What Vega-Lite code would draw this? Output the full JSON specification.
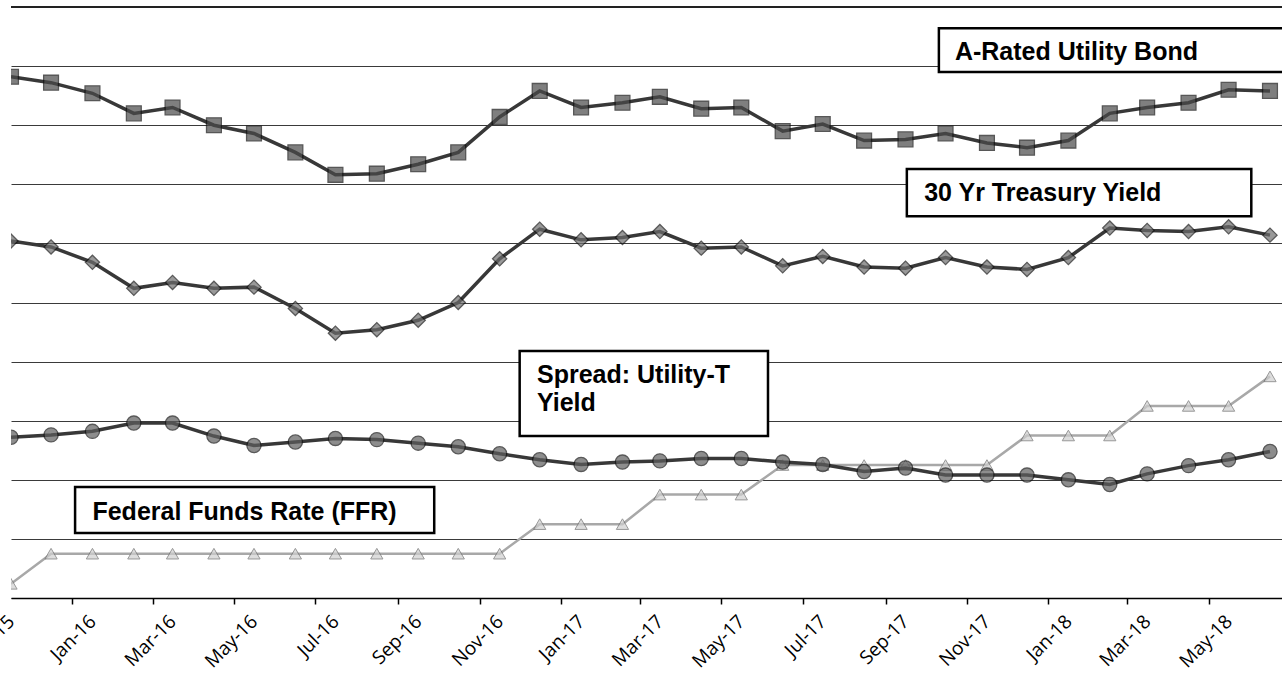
{
  "$schema": "https://vega.github.io/schema/vega-lite/v6.json",
  "width": 1271,
  "height": 591,
  "autosize": {"type": "none"},
  "padding": {"left": 11, "top": 7, "right": 0, "bottom": 79},
  "background": "white",
  "config": {
    "view": {"stroke": null},
    "axisX": {
      "format": "%b-%y",
      "labelAngle": -45,
      "labelAlign": "right",
      "labelBaseline": "middle",
      "labelFont": "Open Sans",
      "labelFontSize": 19,
      "labelColor": "black",
      "ticks": true,
      "tickSize": 6,
      "tickColor": "black",
      "tickWidth": 1.5,
      "tickOffset": -20,
      "labelOffset": 20,
      "labelPadding": 14,
      "domainColor": "black",
      "domainWidth": 1.5,
      "grid": false,
      "labelOverlap": false,
      "labelBound": false,
      "labelFlush": false
    },
    "axisY": {
      "labels": false,
      "ticks": false,
      "domain": false,
      "grid": true,
      "gridColor": "#3a3a3a",
      "gridWidth": 1
    }
  },
  "datasets": {
    "series": [
      {"d": "2015-11-01T00:00", "s": "FFR", "v": 0.12},
      {"d": "2015-12-01T00:00", "s": "FFR", "v": 0.375},
      {"d": "2016-01-01T00:00", "s": "FFR", "v": 0.375},
      {"d": "2016-02-01T00:00", "s": "FFR", "v": 0.375},
      {"d": "2016-03-01T00:00", "s": "FFR", "v": 0.375},
      {"d": "2016-04-01T00:00", "s": "FFR", "v": 0.375},
      {"d": "2016-05-01T00:00", "s": "FFR", "v": 0.375},
      {"d": "2016-06-01T00:00", "s": "FFR", "v": 0.375},
      {"d": "2016-07-01T00:00", "s": "FFR", "v": 0.375},
      {"d": "2016-08-01T00:00", "s": "FFR", "v": 0.375},
      {"d": "2016-09-01T00:00", "s": "FFR", "v": 0.375},
      {"d": "2016-10-01T00:00", "s": "FFR", "v": 0.375},
      {"d": "2016-11-01T00:00", "s": "FFR", "v": 0.375},
      {"d": "2016-12-01T00:00", "s": "FFR", "v": 0.625},
      {"d": "2017-01-01T00:00", "s": "FFR", "v": 0.625},
      {"d": "2017-02-01T00:00", "s": "FFR", "v": 0.625},
      {"d": "2017-03-01T00:00", "s": "FFR", "v": 0.875},
      {"d": "2017-04-01T00:00", "s": "FFR", "v": 0.875},
      {"d": "2017-05-01T00:00", "s": "FFR", "v": 0.875},
      {"d": "2017-06-01T00:00", "s": "FFR", "v": 1.125},
      {"d": "2017-07-01T00:00", "s": "FFR", "v": 1.125},
      {"d": "2017-08-01T00:00", "s": "FFR", "v": 1.125},
      {"d": "2017-09-01T00:00", "s": "FFR", "v": 1.125},
      {"d": "2017-10-01T00:00", "s": "FFR", "v": 1.125},
      {"d": "2017-11-01T00:00", "s": "FFR", "v": 1.125},
      {"d": "2017-12-01T00:00", "s": "FFR", "v": 1.375},
      {"d": "2018-01-01T00:00", "s": "FFR", "v": 1.375},
      {"d": "2018-02-01T00:00", "s": "FFR", "v": 1.375},
      {"d": "2018-03-01T00:00", "s": "FFR", "v": 1.625},
      {"d": "2018-04-01T00:00", "s": "FFR", "v": 1.625},
      {"d": "2018-05-01T00:00", "s": "FFR", "v": 1.625},
      {"d": "2018-06-01T00:00", "s": "FFR", "v": 1.875},

      {"d": "2015-11-01T00:00", "s": "Spread", "v": 1.36},
      {"d": "2015-12-01T00:00", "s": "Spread", "v": 1.38},
      {"d": "2016-01-01T00:00", "s": "Spread", "v": 1.41},
      {"d": "2016-02-01T00:00", "s": "Spread", "v": 1.48},
      {"d": "2016-03-01T00:00", "s": "Spread", "v": 1.48},
      {"d": "2016-04-01T00:00", "s": "Spread", "v": 1.37},
      {"d": "2016-05-01T00:00", "s": "Spread", "v": 1.29},
      {"d": "2016-06-01T00:00", "s": "Spread", "v": 1.32},
      {"d": "2016-07-01T00:00", "s": "Spread", "v": 1.35},
      {"d": "2016-08-01T00:00", "s": "Spread", "v": 1.34},
      {"d": "2016-09-01T00:00", "s": "Spread", "v": 1.31},
      {"d": "2016-10-01T00:00", "s": "Spread", "v": 1.28},
      {"d": "2016-11-01T00:00", "s": "Spread", "v": 1.22},
      {"d": "2016-12-01T00:00", "s": "Spread", "v": 1.17},
      {"d": "2017-01-01T00:00", "s": "Spread", "v": 1.13},
      {"d": "2017-02-01T00:00", "s": "Spread", "v": 1.15},
      {"d": "2017-03-01T00:00", "s": "Spread", "v": 1.16},
      {"d": "2017-04-01T00:00", "s": "Spread", "v": 1.18},
      {"d": "2017-05-01T00:00", "s": "Spread", "v": 1.18},
      {"d": "2017-06-01T00:00", "s": "Spread", "v": 1.15},
      {"d": "2017-07-01T00:00", "s": "Spread", "v": 1.13},
      {"d": "2017-08-01T00:00", "s": "Spread", "v": 1.07},
      {"d": "2017-09-01T00:00", "s": "Spread", "v": 1.10},
      {"d": "2017-10-01T00:00", "s": "Spread", "v": 1.04},
      {"d": "2017-11-01T00:00", "s": "Spread", "v": 1.04},
      {"d": "2017-12-01T00:00", "s": "Spread", "v": 1.04},
      {"d": "2018-01-01T00:00", "s": "Spread", "v": 1.00},
      {"d": "2018-02-01T00:00", "s": "Spread", "v": 0.96},
      {"d": "2018-03-01T00:00", "s": "Spread", "v": 1.05},
      {"d": "2018-04-01T00:00", "s": "Spread", "v": 1.12},
      {"d": "2018-05-01T00:00", "s": "Spread", "v": 1.17},
      {"d": "2018-06-01T00:00", "s": "Spread", "v": 1.24},

      {"d": "2015-11-01T00:00", "s": "Treasury", "v": 3.02},
      {"d": "2015-12-01T00:00", "s": "Treasury", "v": 2.97},
      {"d": "2016-01-01T00:00", "s": "Treasury", "v": 2.84},
      {"d": "2016-02-01T00:00", "s": "Treasury", "v": 2.62},
      {"d": "2016-03-01T00:00", "s": "Treasury", "v": 2.67},
      {"d": "2016-04-01T00:00", "s": "Treasury", "v": 2.62},
      {"d": "2016-05-01T00:00", "s": "Treasury", "v": 2.63},
      {"d": "2016-06-01T00:00", "s": "Treasury", "v": 2.45},
      {"d": "2016-07-01T00:00", "s": "Treasury", "v": 2.24},
      {"d": "2016-08-01T00:00", "s": "Treasury", "v": 2.27},
      {"d": "2016-09-01T00:00", "s": "Treasury", "v": 2.35},
      {"d": "2016-10-01T00:00", "s": "Treasury", "v": 2.50},
      {"d": "2016-11-01T00:00", "s": "Treasury", "v": 2.87},
      {"d": "2016-12-01T00:00", "s": "Treasury", "v": 3.12},
      {"d": "2017-01-01T00:00", "s": "Treasury", "v": 3.03},
      {"d": "2017-02-01T00:00", "s": "Treasury", "v": 3.05},
      {"d": "2017-03-01T00:00", "s": "Treasury", "v": 3.10},
      {"d": "2017-04-01T00:00", "s": "Treasury", "v": 2.96},
      {"d": "2017-05-01T00:00", "s": "Treasury", "v": 2.97},
      {"d": "2017-06-01T00:00", "s": "Treasury", "v": 2.81},
      {"d": "2017-07-01T00:00", "s": "Treasury", "v": 2.89},
      {"d": "2017-08-01T00:00", "s": "Treasury", "v": 2.80},
      {"d": "2017-09-01T00:00", "s": "Treasury", "v": 2.79},
      {"d": "2017-10-01T00:00", "s": "Treasury", "v": 2.88},
      {"d": "2017-11-01T00:00", "s": "Treasury", "v": 2.80},
      {"d": "2017-12-01T00:00", "s": "Treasury", "v": 2.78},
      {"d": "2018-01-01T00:00", "s": "Treasury", "v": 2.88},
      {"d": "2018-02-01T00:00", "s": "Treasury", "v": 3.13},
      {"d": "2018-03-01T00:00", "s": "Treasury", "v": 3.11},
      {"d": "2018-04-01T00:00", "s": "Treasury", "v": 3.10},
      {"d": "2018-05-01T00:00", "s": "Treasury", "v": 3.14},
      {"d": "2018-06-01T00:00", "s": "Treasury", "v": 3.07},

      {"d": "2015-11-01T00:00", "s": "Utility", "v": 4.41},
      {"d": "2015-12-01T00:00", "s": "Utility", "v": 4.36},
      {"d": "2016-01-01T00:00", "s": "Utility", "v": 4.27},
      {"d": "2016-02-01T00:00", "s": "Utility", "v": 4.10},
      {"d": "2016-03-01T00:00", "s": "Utility", "v": 4.15},
      {"d": "2016-04-01T00:00", "s": "Utility", "v": 4.00},
      {"d": "2016-05-01T00:00", "s": "Utility", "v": 3.93},
      {"d": "2016-06-01T00:00", "s": "Utility", "v": 3.77},
      {"d": "2016-07-01T00:00", "s": "Utility", "v": 3.58},
      {"d": "2016-08-01T00:00", "s": "Utility", "v": 3.59},
      {"d": "2016-09-01T00:00", "s": "Utility", "v": 3.67},
      {"d": "2016-10-01T00:00", "s": "Utility", "v": 3.77},
      {"d": "2016-11-01T00:00", "s": "Utility", "v": 4.07},
      {"d": "2016-12-01T00:00", "s": "Utility", "v": 4.29},
      {"d": "2017-01-01T00:00", "s": "Utility", "v": 4.15},
      {"d": "2017-02-01T00:00", "s": "Utility", "v": 4.19},
      {"d": "2017-03-01T00:00", "s": "Utility", "v": 4.24},
      {"d": "2017-04-01T00:00", "s": "Utility", "v": 4.14},
      {"d": "2017-05-01T00:00", "s": "Utility", "v": 4.15},
      {"d": "2017-06-01T00:00", "s": "Utility", "v": 3.95},
      {"d": "2017-07-01T00:00", "s": "Utility", "v": 4.01},
      {"d": "2017-08-01T00:00", "s": "Utility", "v": 3.87},
      {"d": "2017-09-01T00:00", "s": "Utility", "v": 3.88},
      {"d": "2017-10-01T00:00", "s": "Utility", "v": 3.93},
      {"d": "2017-11-01T00:00", "s": "Utility", "v": 3.85},
      {"d": "2017-12-01T00:00", "s": "Utility", "v": 3.81},
      {"d": "2018-01-01T00:00", "s": "Utility", "v": 3.87},
      {"d": "2018-02-01T00:00", "s": "Utility", "v": 4.10},
      {"d": "2018-03-01T00:00", "s": "Utility", "v": 4.15},
      {"d": "2018-04-01T00:00", "s": "Utility", "v": 4.19},
      {"d": "2018-05-01T00:00", "s": "Utility", "v": 4.30},
      {"d": "2018-06-01T00:00", "s": "Utility", "v": 4.29}
    ],
    "boxes": [
      {"d": "2017-09-26T00:00", "d2": "2018-07-20T00:00", "v": 4.82, "v2": 4.45},
      {"d": "2017-09-02T00:00", "d2": "2018-05-18T00:00", "v": 3.63, "v2": 3.23},
      {"d": "2016-11-16T00:00", "d2": "2017-05-21T00:00", "v": 2.09, "v2": 1.37},
      {"d": "2015-12-19T00:00", "d2": "2016-09-13T00:00", "v": 0.94, "v2": 0.55}
    ],
    "labels": [
      {"d": "2017-10-08T00:00", "v": 4.62, "t": "A-Rated Utility Bond"},
      {"d": "2017-09-15T00:00", "v": 3.43, "t": "30 Yr Treasury Yield"},
      {"d": "2016-11-29T00:00", "v": 1.89, "t": "Spread: Utility-T"},
      {"d": "2016-11-29T00:00", "v": 1.65, "t": "Yield"},
      {"d": "2016-01-01T00:00", "v": 0.73, "t": "Federal Funds Rate (FFR)"}
    ]
  },
  "layer": [
    {
      "data": {"name": "series"},
      "transform": [{"filter": "datum.s === 'FFR'"}],
      "mark": {"type": "line", "clip": true, "color": "#a8a8a8", "strokeWidth": 2.5},
      "encoding": {
        "x": {"field": "d", "type": "temporal", "title": null,
          "scale": {"domain": [{"year": 2015, "month": 11, "date": 1}, {"year": 2018, "month": 6, "date": 10}]},
          "axis": {"values": [
            {"year": 2015, "month": 11, "date": 1},
            {"year": 2016, "month": 1, "date": 1},
            {"year": 2016, "month": 3, "date": 1},
            {"year": 2016, "month": 5, "date": 1},
            {"year": 2016, "month": 7, "date": 1},
            {"year": 2016, "month": 9, "date": 1},
            {"year": 2016, "month": 11, "date": 1},
            {"year": 2017, "month": 1, "date": 1},
            {"year": 2017, "month": 3, "date": 1},
            {"year": 2017, "month": 5, "date": 1},
            {"year": 2017, "month": 7, "date": 1},
            {"year": 2017, "month": 9, "date": 1},
            {"year": 2017, "month": 11, "date": 1},
            {"year": 2018, "month": 1, "date": 1},
            {"year": 2018, "month": 3, "date": 1},
            {"year": 2018, "month": 5, "date": 1}
          ]}},
        "y": {"field": "v", "type": "quantitative", "title": null,
          "scale": {"domain": [0, 5], "nice": false},
          "axis": {"values": [0, 0.5, 1, 1.5, 2, 2.5, 3, 3.5, 4, 4.5, 5]}}
      }
    },
    {
      "data": {"name": "series"},
      "transform": [{"filter": "datum.s === 'FFR'"}],
      "mark": {"type": "point", "clip": true, "shape": "triangle-up", "size": 150, "filled": true, "fill": "#cfcfcf", "stroke": "#6e6e6e", "strokeWidth": 1},
      "encoding": {
        "x": {"field": "d", "type": "temporal", "title": null},
        "y": {"field": "v", "type": "quantitative", "title": null}
      }
    },
    {
      "data": {"name": "series"},
      "transform": [{"filter": "datum.s === 'Spread'"}],
      "mark": {"type": "line", "clip": true, "color": "#383838", "strokeWidth": 3.5},
      "encoding": {
        "x": {"field": "d", "type": "temporal", "title": null},
        "y": {"field": "v", "type": "quantitative", "title": null}
      }
    },
    {
      "data": {"name": "series"},
      "transform": [{"filter": "datum.s === 'Spread'"}],
      "mark": {"type": "point", "clip": true, "shape": "circle", "size": 200, "filled": true, "fill": "#5e5e5e", "stroke": "#141414", "strokeWidth": 1.3},
      "encoding": {
        "x": {"field": "d", "type": "temporal", "title": null},
        "y": {"field": "v", "type": "quantitative", "title": null}
      }
    },
    {
      "data": {"name": "series"},
      "transform": [{"filter": "datum.s === 'Treasury'"}],
      "mark": {"type": "line", "clip": true, "color": "#383838", "strokeWidth": 3.5},
      "encoding": {
        "x": {"field": "d", "type": "temporal", "title": null},
        "y": {"field": "v", "type": "quantitative", "title": null}
      }
    },
    {
      "data": {"name": "series"},
      "transform": [{"filter": "datum.s === 'Treasury'"}],
      "mark": {"type": "point", "clip": true, "shape": "diamond", "size": 200, "filled": true, "fill": "#6e6e6e", "stroke": "#141414", "strokeWidth": 1.3},
      "encoding": {
        "x": {"field": "d", "type": "temporal", "title": null},
        "y": {"field": "v", "type": "quantitative", "title": null}
      }
    },
    {
      "data": {"name": "series"},
      "transform": [{"filter": "datum.s === 'Utility'"}],
      "mark": {"type": "line", "clip": true, "color": "#383838", "strokeWidth": 3.5},
      "encoding": {
        "x": {"field": "d", "type": "temporal", "title": null},
        "y": {"field": "v", "type": "quantitative", "title": null}
      }
    },
    {
      "data": {"name": "series"},
      "transform": [{"filter": "datum.s === 'Utility'"}],
      "mark": {"type": "point", "clip": true, "shape": "square", "size": 220, "filled": true, "fill": "#4a4a4a", "stroke": "#111111", "strokeWidth": 1.3},
      "encoding": {
        "x": {"field": "d", "type": "temporal", "title": null},
        "y": {"field": "v", "type": "quantitative", "title": null}
      }
    },
    {
      "data": {"values": [{"v": 5}]},
      "mark": {"type": "rule", "color": "#222222", "strokeWidth": 2},
      "encoding": {
        "y": {"field": "v", "type": "quantitative", "title": null}
      }
    },
    {
      "data": {"name": "boxes"},
      "mark": {"type": "rect", "clip": true, "fill": "white", "stroke": "black", "strokeWidth": 2.5},
      "encoding": {
        "x": {"field": "d", "type": "temporal", "title": null},
        "x2": {"field": "d2"},
        "y": {"field": "v", "type": "quantitative", "title": null},
        "y2": {"field": "v2"}
      }
    },
    {
      "data": {"name": "labels"},
      "mark": {"type": "text", "align": "left", "baseline": "middle", "font": "Liberation Sans", "fontWeight": "bold", "fontSize": 25, "color": "black"},
      "encoding": {
        "x": {"field": "d", "type": "temporal", "title": null},
        "y": {"field": "v", "type": "quantitative", "title": null},
        "text": {"field": "t"}
      }
    }
  ]
}
